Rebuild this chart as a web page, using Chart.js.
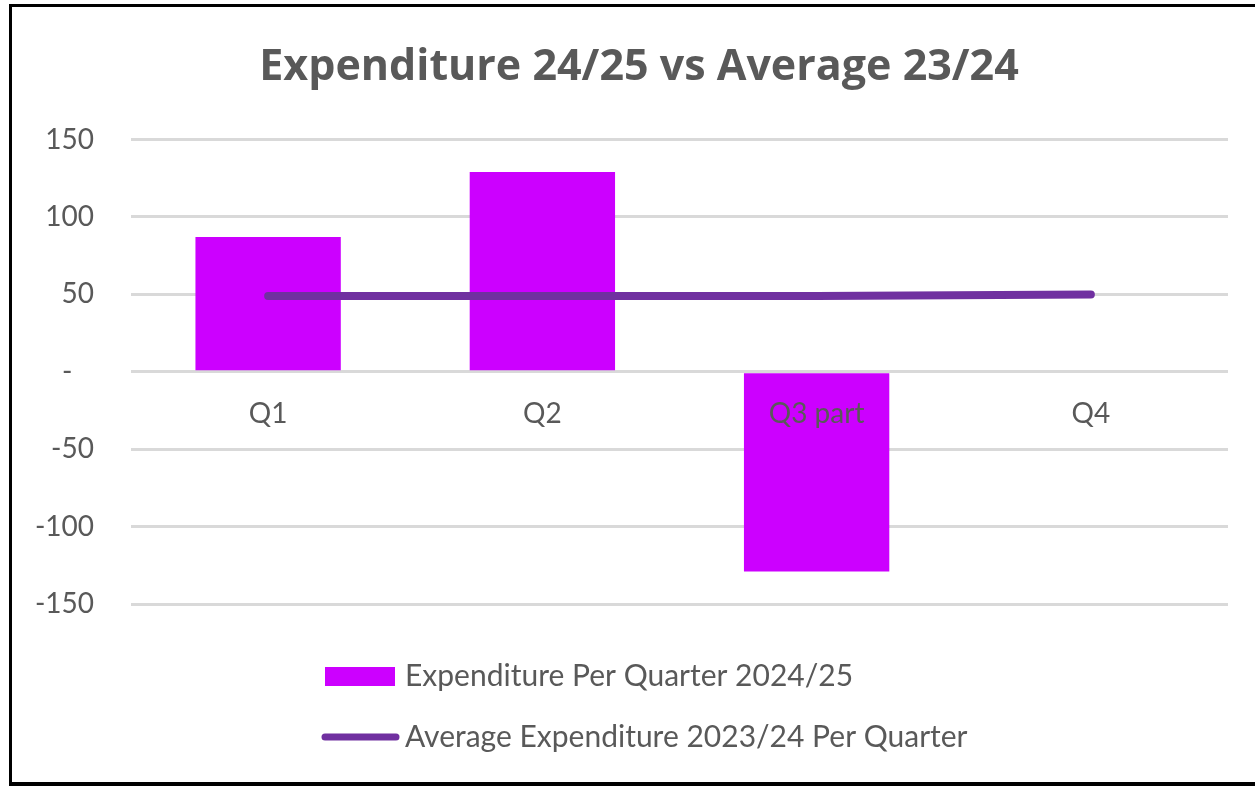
<!DOCTYPE html>
<html>
<head>
<meta charset="utf-8">
<script src="https://cdn.jsdelivr.net/npm/chart.js@4.4.0/dist/chart.umd.min.js"></script>
<style>
  html, body { margin: 0; padding: 0; background: #fff; overflow: hidden; }
  #wrap { position: absolute; left: 0; top: 0; width: 1255px; height: 786px; }
  #frame {
    position: absolute; left: 9px; top: 4px; width: 1260px; height: 782px;
    box-sizing: border-box; border-style: solid; border-color: #000;
    border-width: 3px 0 4px 3px; pointer-events: none;
  }
</style>
</head>
<body>
<div id="wrap"><canvas id="chart"></canvas></div>
<div id="frame"></div>
<script>
  // data
  const quarters = ["Q1", "Q2", "Q3 part", "Q4"];
  const spend2425 = [87, 129, -129, null];
  const avg2324 = [49, 49, 49, 50];
  const yTicks = [-150, -100, -50, 0, 50, 100, 150];

  const grey = "#595959";
  const barColor = "#CC00FF";
  const lineColor = "#7030A0";

  // legend drawn below the plot, stacked like the Excel one
  const stackedLegend = {
    id: "stackedLegend",
    afterDraw(chart) {
      const ctx = chart.ctx;
      const ds = chart.data.datasets;
      const bar = ds.find((d) => d.type === "bar");
      const line = ds.find((d) => d.type === "line");
      ctx.save();
      ctx.font = "30px Lato";
      ctx.textBaseline = "middle";
      ctx.textAlign = "left";

      ctx.fillStyle = bar.backgroundColor;
      ctx.fillRect(325, 667, 70, 19);
      ctx.fillStyle = grey;
      ctx.fillText(bar.label, 405, 676);

      ctx.strokeStyle = line.borderColor;
      ctx.lineWidth = 7;
      ctx.lineCap = "round";
      ctx.beginPath();
      ctx.moveTo(325, 737);
      ctx.lineTo(396, 737);
      ctx.stroke();
      ctx.fillText(line.label, 405, 737);
      ctx.restore();
    }
  };

  new Chart(document.getElementById("chart"), {
    data: {
      labels: quarters,
      datasets: [
        {
          type: "line",
          label: "Average Expenditure 2023/24 Per Quarter",
          data: avg2324,
          borderColor: lineColor,
          backgroundColor: lineColor,
          borderWidth: 8,
          borderCapStyle: "round",
          pointRadius: 0,
          tension: 0,
          order: 0
        },
        {
          type: "bar",
          label: "Expenditure Per Quarter 2024/25",
          data: spend2425,
          backgroundColor: barColor,
          categoryPercentage: 1,
          barPercentage: 0.53,
          order: 1
        }
      ]
    },
    options: {
      responsive: true,
      maintainAspectRatio: false,
      animation: false,
      // title box runs 0..1278 so its centre sits where Excel put it
      layout: { padding: { left: 0, right: -23, top: 0, bottom: 182 } },
      plugins: {
        legend: { display: false },
        tooltip: { enabled: false },
        title: {
          display: true,
          text: "Expenditure 24/25 vs Average 23/24",
          color: grey,
          font: { family: "'Open Sans'", size: 43, weight: "bold" },
          padding: { top: 42, bottom: 46 }
        }
      },
      scales: {
        x: {
          position: { y: 0 },
          grid: { display: false },
          border: { display: false },
          ticks: {
            z: 1, // category labels sit on top of the Q3 bar
            color: grey,
            padding: 17,
            font: { family: "Lato", size: 28 }
          },
          afterFit: (s) => { s.height = 0; }
        },
        y: {
          min: -150,
          max: 150,
          afterBuildTicks: (s) => { s.ticks = yTicks.map((v) => ({ value: v })); },
          afterFit: (s) => { s.width = 131; },
          grid: { color: "#D9D9D9", lineWidth: 3, drawTicks: false },
          border: { display: false },
          ticks: {
            color: grey,
            padding: 37,
            font: { family: "Lato", size: 28 },
            callback: (v) => (v === 0 ? "-\u00a0\u00a0\u00a0" : v)
          }
        },
        spacer: {
          position: "right",
          grid: { display: false },
          border: { display: false },
          ticks: { display: false },
          afterFit: (s) => { s.width = 50; }
        }
      }
    },
    plugins: [stackedLegend]
  });
</script>
</body>
</html>
